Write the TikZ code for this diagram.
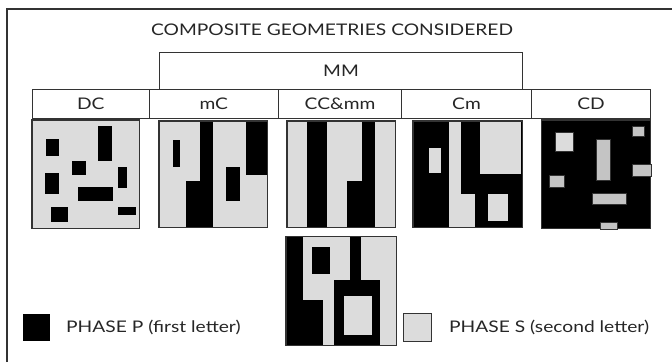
\documentclass[tikz,border=0pt]{standalone}
\usepackage{fontspec}
\setmainfont{Lato}[FakeStretch=1.2]
\definecolor{sgrey}{HTML}{DCDCDC}
\definecolor{cgrey}{HTML}{C4C4C4}
\definecolor{edge}{HTML}{333333}
\begin{document}
\begin{tikzpicture}[x=1pt,y=-1pt,
  lbl/.style={font=\fontsize{16}{16}\selectfont, text=black!85, inner sep=0pt},
  cell/.style={draw=edge, line width=1pt, fill=white, inner sep=0pt, anchor=north west},
  sqfill/.style={fill=#1, inner sep=0pt, anchor=north west, draw=none},
  sqborder/.style={draw=edge, line width=1.2pt},
  blk/.style={fill=black},
  gry/.style={fill=sgrey},
  cgry/.style={fill=cgrey, draw=edge, line width=0.5pt}]
\useasboundingbox (0,0) rectangle (672,362);
% outer frame (only top and left edges visible)
\draw[edge, line width=1.5pt] (7,362) -- (7,9) -- (672,9);
% title
\node[lbl] (title) at (332,30) {COMPOSITE GEOMETRIES CONSIDERED};
% MM box
\node[cell, minimum width=363pt, minimum height=37pt] (mm) at (159,52) {};
\node[lbl] (mmt) at (mm.center) {MM};
% header cells
\node[cell, minimum width=116.5pt, minimum height=29pt] (dc) at (32,89) {};
\node[cell, minimum width=129.5pt, minimum height=29pt] (mc) at (148.5,89) {};
\node[cell, minimum width=123pt, minimum height=29pt] (cc) at (278,89) {};
\node[cell, minimum width=130pt, minimum height=29pt] (cm) at (401,89) {};
\node[cell, minimum width=119pt, minimum height=29pt] (cd) at (531,89) {};
\node[lbl] (dct) at (dc.center) {DC};
\node[lbl] (mct) at (mc.center) {mC};
\node[lbl] (cct) at (cc.center) {CC\&mm};
\node[lbl] (cmt) at (cm.center) {Cm};
\node[lbl] (cdt) at (cd.center) {CD};

% ---- DC square
\node[sqfill=sgrey, minimum width=107pt, minimum height=108pt] (dcsq) at (32,120) {};
\fill[blk] (45.7,139) rectangle (59,155.7);
\fill[blk] (98.3,126) rectangle (112.3,161);
\fill[blk] (71.7,160.7) rectangle (86,175);
\fill[blk] (45,173.3) rectangle (59.3,194.3);
\fill[blk] (118.3,167.3) rectangle (126.7,188.3);
\fill[blk] (77.7,187.3) rectangle (112.7,201);
\fill[blk] (50.7,206.7) rectangle (67.7,221.7);
\fill[blk] (118.3,206.7) rectangle (135.7,215);
\draw[sqborder] (dcsq.north west) rectangle (dcsq.south east);

% ---- mC square
\node[sqfill=sgrey, minimum width=108pt, minimum height=106pt] (mcsq) at (159,121) {};
\fill[blk] (200,121) rectangle (213.3,227);
\fill[blk] (186,180.7) rectangle (200,227);
\fill[blk] (246,121) rectangle (267,175);
\fill[blk] (172.7,140) rectangle (180,166.7);
\fill[blk] (226,167.3) rectangle (240,200.7);
\draw[sqborder] (mcsq.north west) rectangle (mcsq.south east);

% ---- CC&mm square
\node[sqfill=sgrey, minimum width=108pt, minimum height=106pt] (ccsq) at (287,121) {};
\fill[blk] (306.7,121) rectangle (326.7,227);
\fill[blk] (361.7,121) rectangle (375,227);
\fill[blk] (347.3,180.7) rectangle (361.7,227);
\draw[sqborder] (ccsq.north west) rectangle (ccsq.south east);

% ---- Cm square
\node[sqfill=black, minimum width=109pt, minimum height=106pt] (cmsq) at (413,121) {};
\fill[gry] (449,121) rectangle (461,227);
\fill[gry] (449,194) rectangle (474.7,227);
\fill[gry] (429,148.3) rectangle (441,173.3);
\fill[gry] (480,121) rectangle (520.7,174.3);
\fill[gry] (488.3,194) rectangle (507.7,220.7);
\draw[sqborder] (cmsq.north west) rectangle (cmsq.south east);

% ---- CD square
\node[sqfill=black, minimum width=108.5pt, minimum height=108pt] (cdsq) at (541.5,120) {};
\draw[sqborder] (cdsq.north west) rectangle (cdsq.south east);
\filldraw[fill=sgrey, draw=edge, line width=0.5pt] (555.7,132.7) rectangle (573,151.3);
\filldraw[cgry] (596,139) rectangle (610,180);
\filldraw[cgry] (632.3,126) rectangle (644,136.7);
\filldraw[cgry] (632.3,164.3) rectangle (651.7,176.7);
\filldraw[cgry] (549,175) rectangle (564,187.3);
\filldraw[cgry] (592.3,193.3) rectangle (626.3,204);
\filldraw[cgry] (600,222.3) rectangle (617.3,229);

% ---- bottom square
\node[sqfill=sgrey, minimum width=110pt, minimum height=108.5pt] (bsq) at (286,236.5) {};
\fill[blk] (286,236.5) rectangle (303.3,345);
\fill[blk] (286,300) rectangle (323.3,345);
\fill[blk] (311.7,246.7) rectangle (330,274);
\fill[blk] (350,236.5) rectangle (360.7,287);
\fill[blk] (334,280) rectangle (380,345);
\fill[gry] (344,295.7) rectangle (371.7,335);
\draw[sqborder] (bsq.north west) rectangle (bsq.south east);

% ---- legend
\node[fill=black, minimum size=27pt, inner sep=0pt, anchor=north west] (legp) at (23,314) {};
\node[lbl, anchor=west] (legpt) at (66,327.5) {PHASE P (first letter)};
\node[fill=sgrey, draw=edge, line width=0.8pt, minimum size=28pt, inner sep=0pt, anchor=north west] (legs) at (403,313) {};
\node[lbl, anchor=west] (legst) at (449,327) {PHASE S (second letter)};
\end{tikzpicture}
\end{document}
